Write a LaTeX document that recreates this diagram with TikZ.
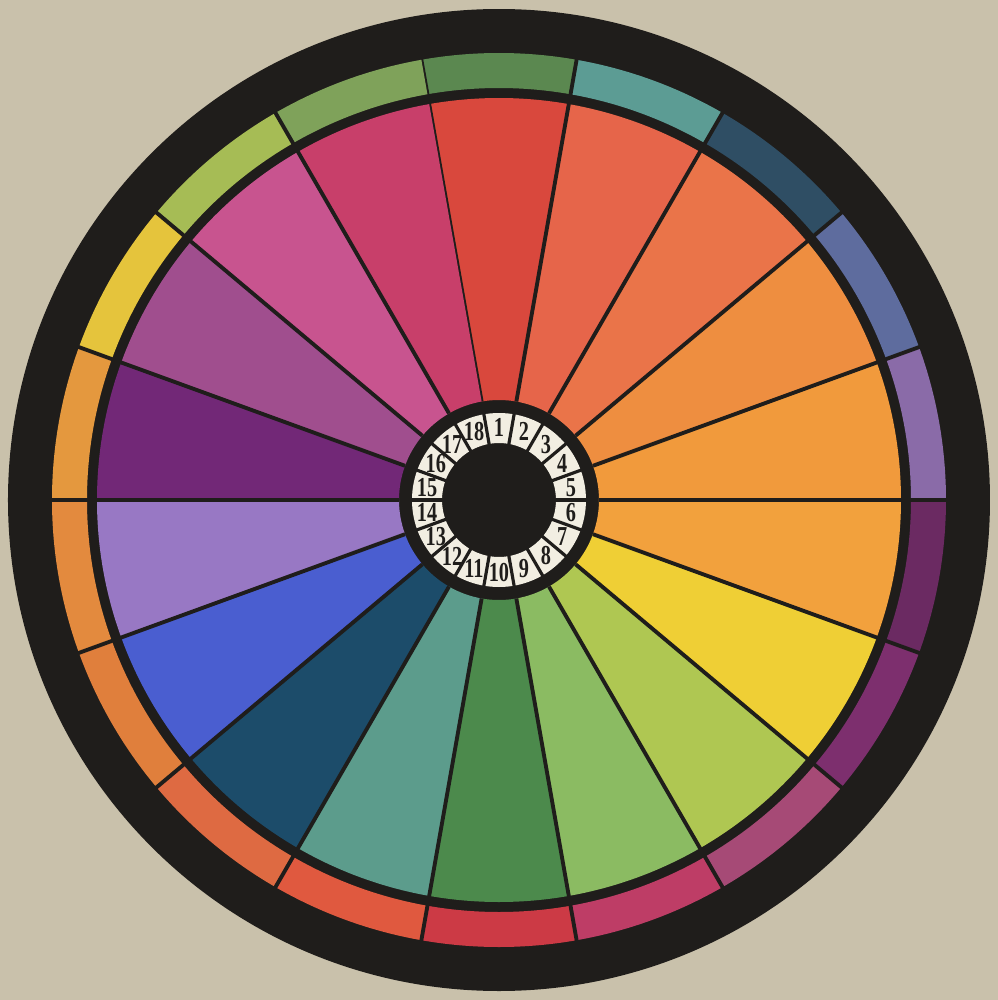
\documentclass[tikz,border=0pt]{standalone}
\usepackage{fontspec}
\usepackage{tikz}
\newfontfamily\cardfont{Liberation Serif}
\definecolor{paper}{HTML}{C9C1AB}
\definecolor{ink}{HTML}{1F1D1B}
\definecolor{card}{HTML}{F2EEE2}
% colours of the wedges, 1 at the top, clockwise
\definecolor{s1}{HTML}{D9483D}
\definecolor{s2}{HTML}{E6654A}
\definecolor{s3}{HTML}{EA7449}
\definecolor{s4}{HTML}{EE8E40}
\definecolor{s5}{HTML}{F19A3C}
\definecolor{s6}{HTML}{F2A13D}
\definecolor{s7}{HTML}{EFCF35}
\definecolor{s8}{HTML}{AFC752}
\definecolor{s9}{HTML}{8BBB62}
\definecolor{s10}{HTML}{4C8A4C}
\definecolor{s11}{HTML}{5C9C8C}
\definecolor{s12}{HTML}{1C4C6A}
\definecolor{s13}{HTML}{4A5ED0}
\definecolor{s14}{HTML}{9878C4}
\definecolor{s15}{HTML}{722877}
\definecolor{s16}{HTML}{A04E8E}
\definecolor{s17}{HTML}{C8548F}
\definecolor{s18}{HTML}{C83F6A}
% colours of the outer ring
\definecolor{r1}{HTML}{5B8850}
\definecolor{r2}{HTML}{5C9C94}
\definecolor{r3}{HTML}{2F4E64}
\definecolor{r4}{HTML}{5E6C9E}
\definecolor{r5}{HTML}{8A6BA8}
\definecolor{r6}{HTML}{6B2A62}
\definecolor{r7}{HTML}{7D2F6E}
\definecolor{r8}{HTML}{A64A76}
\definecolor{r9}{HTML}{BE3D66}
\definecolor{r10}{HTML}{CC3A45}
\definecolor{r11}{HTML}{E0593F}
\definecolor{r12}{HTML}{DE6A42}
\definecolor{r13}{HTML}{E07F3C}
\definecolor{r14}{HTML}{E38A3E}
\definecolor{r15}{HTML}{E4983E}
\definecolor{r16}{HTML}{E5C43C}
\definecolor{r17}{HTML}{A6BC55}
\definecolor{r18}{HTML}{7FA25A}

\begin{document}
\begin{tikzpicture}[x=0.1mm, y=0.1mm,
  numlabel/.style={font=\cardfont\bfseries\fontsize{7.8}{8}\selectfont, text=ink, inner sep=0pt, xscale=0.74},
  spoke/.style={draw=ink, line width=1.1pt},
  cellline/.style={draw=ink, line width=0.9pt}]
  \useasboundingbox (-499,-500) rectangle (499,500);
  \fill[paper] (-499,-500) rectangle (499,500);
  \fill[ink] (0,0) circle (491);

  % outer ring and wedges
  \foreach \i in {1,...,18} {
    \pgfmathsetmacro{\a}{90-(\i-1)*20}
    \fill[r\i] (\a-10:447) arc[start angle=\a-10, end angle=\a+10, radius=447]
      -- (\a+10:412) arc[start angle=\a+10, end angle=\a-10, radius=412] -- cycle;
    \fill[s\i] (\a-10:402) arc[start angle=\a-10, end angle=\a+10, radius=402]
      -- (\a+10:100) arc[start angle=\a+10, end angle=\a-10, radius=100] -- cycle;
    \draw[spoke] (\a+10:100) -- (\a+10:449);
  }

  % number card
  \fill[card, even odd rule] (0,0) circle (87) (0,0) circle (57);
  \foreach \i in {1,...,18} {
    \pgfmathsetmacro{\a}{90-(\i-1)*20}
    \draw[cellline] (\a+10:56) -- (\a+10:88);
    \node[numlabel] (num\i) at (\a:73) {\i};
  }
\end{tikzpicture}
\end{document}
